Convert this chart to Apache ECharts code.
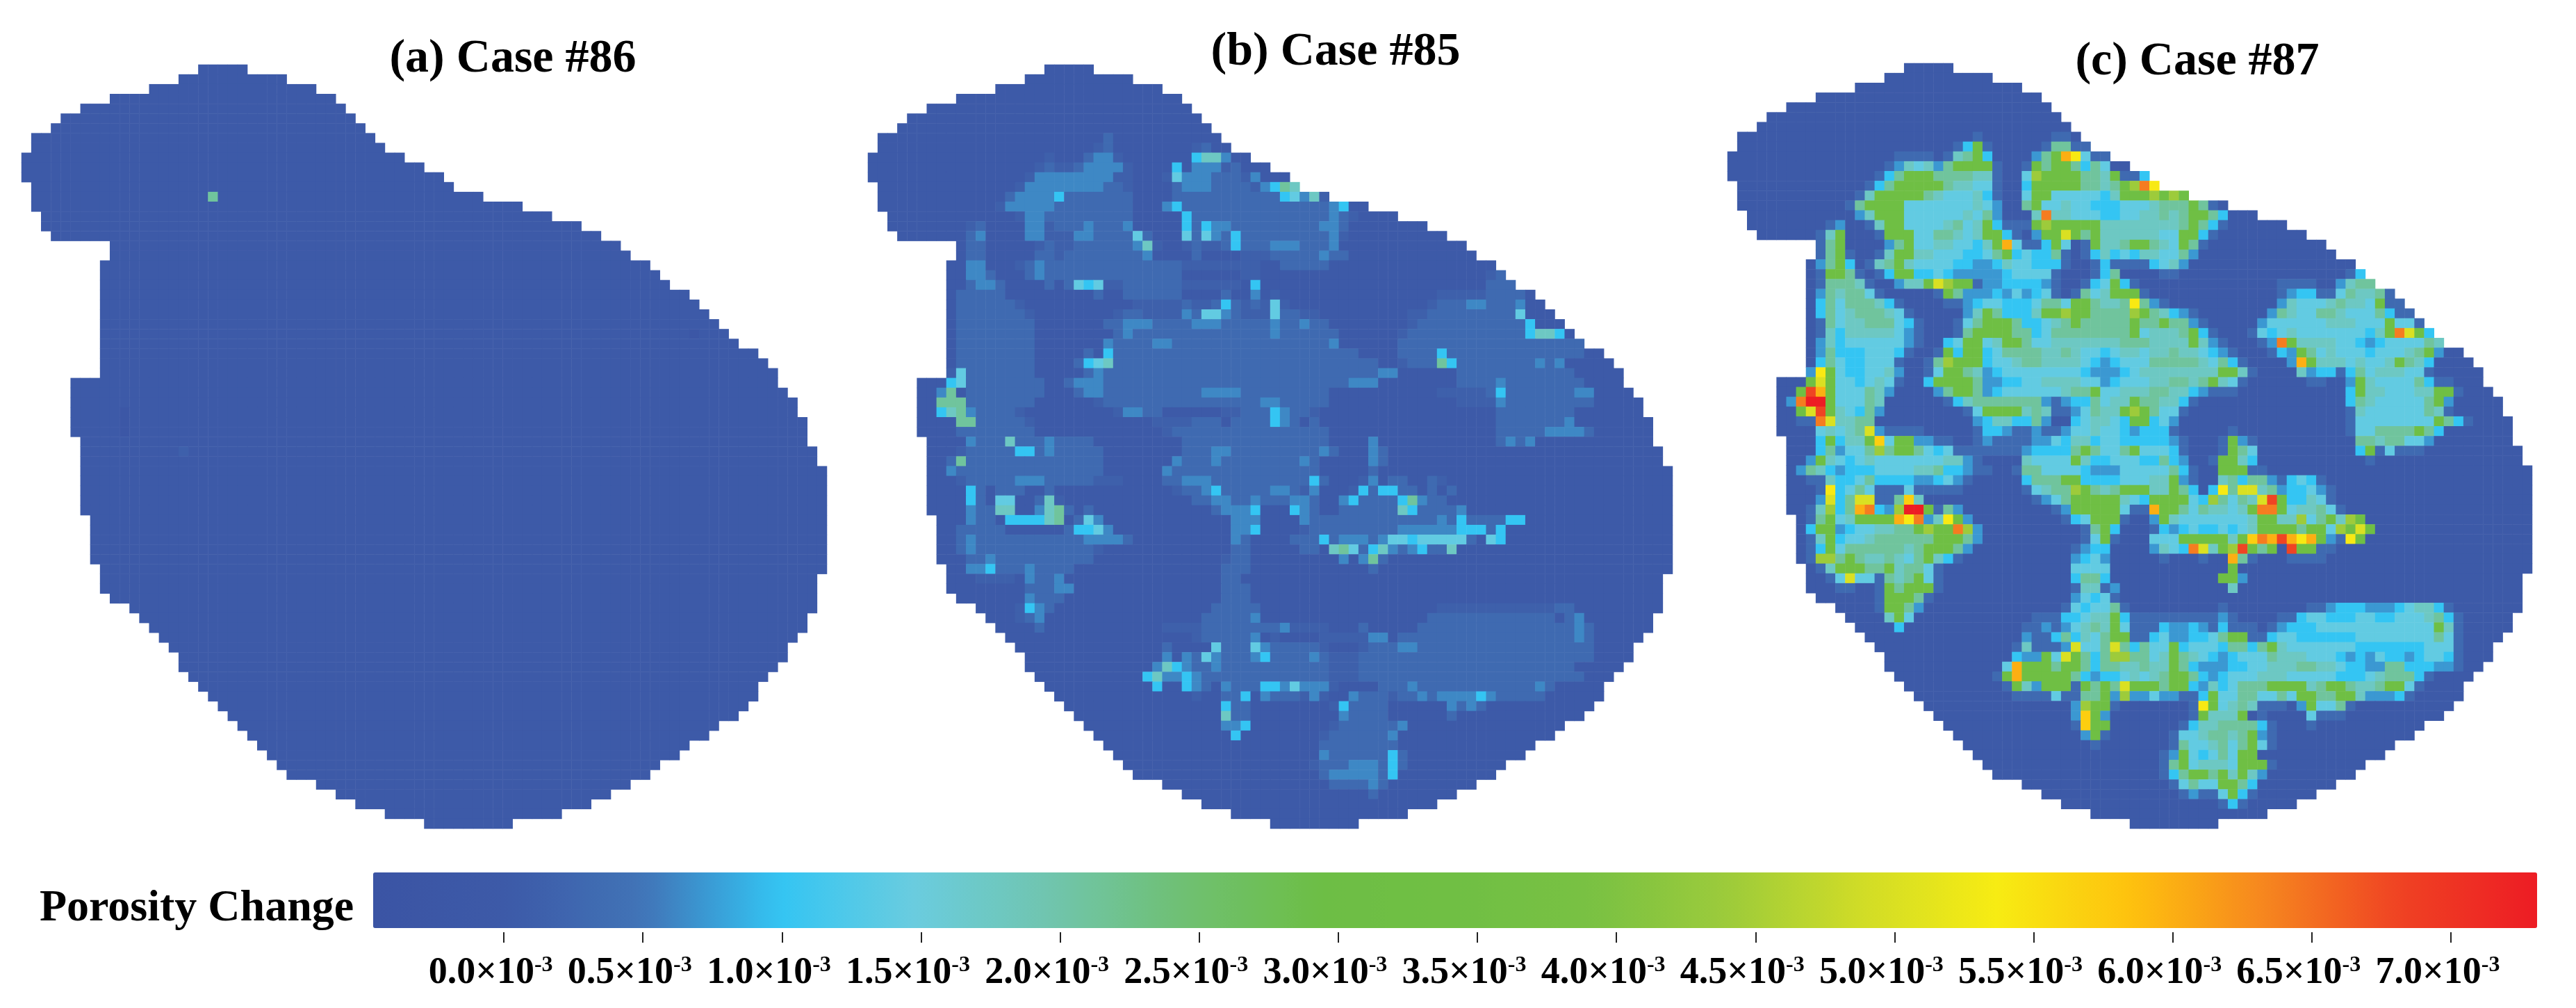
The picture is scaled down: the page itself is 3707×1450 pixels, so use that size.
<!DOCTYPE html>
<html><head><meta charset="utf-8">
<style>html,body{margin:0;padding:0;background:#fff}#c{width:3707px;height:1450px}</style>
<script src="https://cdn.jsdelivr.net/npm/echarts@6/dist/echarts.min.js"></script>
</head><body><div id="c"></div>
<script>
const panelTitles = ['(a) Case #86', '(b) Case #85', '(c) Case #87'];
const colorbarTitle = 'Porosity Change';
const tickValues = [0,0.5,1,1.5,2,2.5,3,3.5,4,4.5,5,5.5,6,6.5,7];
const barMin = -0.47, barMax = 7.31;
const barColors = ['#3b54a4','#3d5aa8','#4174b7','#33c5f3','#6accdf','#70c5ae','#6fc072','#6dbe45','#70bf44','#79c143','#9ccb3b','#d0dc27','#f7ec13','#fec10e','#f6851f','#ef4123','#ed1c24'];
const levelKeys = 'z.xawbcdefghijklmno';
const levelValues = [-0.2,0,0.12,0.32,0.62,0.72,1.0,1.4,1.75,2.1,3.2,4.4,5.0,5.4,5.7,6.0,6.4,6.8,7.3];
const rowStart = [18,16,13,9,6,4,3,1,1,0,0,0,1,1,1,2,2,3,9,9,8,8,8,8,8,8,8,8,8,8,8,8,5,5,5,5,5,5,6,6,6,6,6,6,6,6,7,7,7,7,7,8,8,8,9,11,12,13,14,15,16,16,17,18,19,20,21,22,23,24,25,26,27,30,32,34,37,41];
const rowEnd = [23,27,30,32,33,34,35,36,37,39,41,43,44,47,51,54,57,59,61,62,64,65,66,68,69,70,71,72,73,75,76,77,77,78,79,79,80,80,80,81,81,82,82,82,82,82,82,82,82,82,82,82,81,81,81,81,80,80,79,78,78,77,76,75,75,74,73,71,70,68,67,65,64,62,60,58,55,50];
// each row: [row, startCol, levels, startCol, levels, ...]; unlisted cells read as 0.0
const case86Rows = [[13,19,"f"],[27,68,"z"],[35,10,"z"],[36,10,"z"],[37,10,"z"],[39,16,"x"]];
const case85Rows = [
[7,24,"a"],
[8,23,"xa",33,"xa"],
[9,18,"x",22,"awwx",33,"ceew"],
[10,17,"xaxxawwwwx",31,"c.wwwxa"],
[11,16,"xwwwwwwwwxx",30,"xdwwwaaaxw"],
[12,15,"xwwwwwwwwaax",31,"awwwaaaaxwcfe"],
[13,14,"awwwwcaaaaaaa",31,"aaaaaaaaaaacdwex"],
[14,13,"xwwwwwaaaaaaaa",30,"wcaaaaaaaaaaaaaaawc"],
[15,15,"xwwaaaaaaaaa",32,"caaaaaaaaaaaaaawax"],
[16,10,"xa....wwxaaawaaaw",32,"cacwwaaaaaaaaawwa"],
[17,10,"aw....wwxxxwwaaaada",32,"dadwacaaaaaaaaawx"],
[18,10,"aa.....xaxxaaaaaawex",32,"xaxxacaaawwwaaaw"],
[19,10,"aa.....aaxaaaaaaaaw",33,"a",38,"xxxaaaaawaa"],
[20,10,"ww...xawaaaaaaaaaaaaaaxxxxxxxx..aaaaa"],
[21,10,"wwa...awaaaaaaaaaaaaaa",38,"xx",63,"xa"],
[22,10,"awwa....a.adcdxxaaaaaaxxxxxx",39,"c",63,"aaa"],
[23,9,"aaaaa",23,"a",26,"aaaaaa",36,"a",39,"w",41,"x",58,"xxxxx",63,"aaaa"],
[24,9,"aaaaaax",27,"xxxxx",32,"axxacaxaxdx",57,"xaaawwaaaw"],
[25,9,"aaaaaaax",25,"xaaxxxxwaddwaxxxdaaxx",55,"xxaaaaaaaaad"],
[26,9,"aaaaaaaa",24,"aawwwaaaawwwaaaaawaawaa",55,"xaaaaaaaaaaac"],
[27,9,"aaaaaaaa",25,"awaaaaaaaaaaaaaawaaaaaa",54,"xaaaaaaaaaaaaceec"],
[28,9,"aaaaaaaa",24,"waaaawwaaaaaaaaaaaaaaaaw",54,"aaaaaaaaaaaaaaaaaaa"],
[29,9,"aaaaaaaa",22,"a.caaaaaaaaaaaaaaaaaaaaaaaaa",54,"aaaacaaaaaaaaaaaaaa"],
[30,9,"aaaaaaaa",21,"acdeaaaaaaaaaaaaaaaaaaaaaaaaaaa",54,"xaaafcaaaaaaaawaw"],
[31,8,"xdaaaaaaa",22,"awaaaaaaaaaaaaaaaaaaaaaaaaaaaaww",60,"aaaaaaaaaaaa"],
[32,8,"cdaaaaaaaa",20,"awwwaaaaaaaaaaaaaaaaaaaaaaaaawww",60,"aaaawaaaaaaaa"],
[33,7,"wf.aaaaaaaa",21,"awwaaaaaaaaaawwwwaaaaaaaaa",58,"xxxxxacaaaaaaaww"],
[34,7,"fffaaaaaaa",23,"xaaaaaaaaaaaaaaaawwaaaaa",60,"xxxxwaaaaaaaaa"],
[35,7,"cefwaaaax",25,"xwwaa",36,"xxaaacwaax",64,"aaaaaaaa"],
[36,9,"ffaaaaax",29,"xxxxaaa",37,"aaaacwa.a",64,"aaaaaaaw"],
[37,9,"aaaaaaaa",30,"xaaaaaaaaaaaaaaaa",64,"aaaaawwwwa"],
[38,10,"waaaeaaawaaaa",32,"aaaaaaaaaaaaaaa",51,"w",64,"awaw"],
[39,9,"xaaaaaccawaaaaa",32,"aaawwaaaaaaaaawa",51,"wa"],
[40,8,"afaaaaaaaaaaaaaa",31,"waaawaaaaaaaawa",51,"wa"],
[41,8,"waaaaaaaaaaaaaaa",30,"waaaaaaaaaaaaaaa",51,"a"],
[42,9,"xaaaaawwwaaaaaxxx",30,"aawwwaaaaaaaaaaca",50,"xw",53,"aa",57,"ax"],
[43,10,"ca.aaa..a",31,"xaawcaaaaawwaxw",49,"xcaccaa",57,"a.a"],
[44,10,"ca.dd..aex",33,"aawwaawaaawwa",48,"wcaaaacfwaa"],
[45,10,"waaee..wefa.a",35,"awwwc...cwa",48,"aaaaaa",54,"ecaaaa",60,"w"],
[46,10,"waa.ccccef.adw",37,"www",44,"waaaaaaaaaaaaawacaaaacc"],
[47,9,"aaaaa",20,"accdw",37,"wwc",44,"xaaaaaaaaawwwwwwcccac"],
[48,9,"awaaaaaaaaaaawwwwa",37,"wa",43,"aaacawwwawddcddddda.dc"],
[49,9,"awaaaaaaaaaaaax",37,"aa",44,"aa.efdacewawcaae"],
[50,10,"aawaaaaaaaaaa",36,"xaa",48,"w.wfa"],
[51,10,"wwcaaawaaaa",36,"aaa",51,"a"],
[52,11,"xxxx.waaw",36,"aa"],
[53,16,"aaaww",36,"aaa"],
[54,16,"waaa",36,"aaa"],
[55,15,"xcwa",35,"aaaaa",58,"xxxxxxxxxxxx",70,"aa"],
[56,15,"xaw",34,"aaaaaw",57,"aaaaaaaaaaaaa.aw"],
[57,17,"a",30,"xxxxaaaaaaaawa",43,"xxxx",50,"a",56,"aaaaaaaaaaaaaaaawa"],
[58,33,"xaaaaaw.x",46,"xxxxx",51,"ww",54,"aaaaaaaaaaaaaaaaaawa"],
[59,30,"a....daaadwaaaaax",50,"xaaawwaaaaaaaaaaaaaaaaaa"],
[60,30,"w.wadwaaawcaaaawa",47,"xxxaaaaaaaaaaaaaaaaaaaaaaaa"],
[61,29,"wecwaawaaaaaaaaaaa",47,"xxxaaaaaaaaaaaaaaaaaaaaaa"],
[62,28,"cewwcwaaaaaaaaaaaaa",47,"xxxaaaaaaaaaaaaaaaaaaaaaaa"],
[63,29,"c..cwa.waaaccwdwwwx",52,"aaawaaaaaaaaaaaawa"],
[64,33,"x",36,"aac.waaaxwx..waaaxaawawwwwcwaaaaa"],
[65,36,"caa",47,"xcaaaa",59,"wawa"],
[66,36,"eaa",48,"waaaa",59,"a"],
[67,36,"wwc",47,"xaaaaaaw"],
[68,37,"c",46,"xaaaaaaw"],
[69,46,"aaaaaaaa"],
[70,46,"waaaaaaca"],
[71,45,"xaaawwwaca"],
[72,46,"awwwwwac"],
[73,47,"aaaawa"],
[74,51,"a"]
];
const case87Rows = [
[7,25,"a.......aa"],
[8,23,"acga.....affaa"],
[9,17,"aaaa.aefgc....bfgljdaa"],
[10,16,"abedebfgggga..agfggfcfd"],
[11,15,"acfgggffffeea..dhggggffegaac"],
[12,14,"acfgggggfeedda..cgggggffefghmj"],
[13,13,"aegggggfedddeca..dggdddddceggghghg"],
[14,12,"afggggdddddddedb..fgddeddcccdddefffgfa."],
[15,13,"begggddddddedfb...emeedddccddeefefggfc"],
[16,10,"ab..aeggddddefdegcaaaghgggggeeeeeeeefgfca"],
[17,9,"aeg...agggddffedeggca.bggigfgeeeeeeddggca"],
[18,9,"afg....bfgddeeddcegldaacgd.ageefggfedgfa"],
[19,9,"afga..aeggeedddccdfgcdccfa.acecdceeddfb"],
[20,9,"bfgc.aefgeddddccbbceddccca..acaaaacdeb"],
[21,9,"aggfa.acggccdcbbbbbcdddda...acf....aa",63,"ac"],
[22,9,"afffea..beegihggabbccccba..acdgca",56,"aaaa..beff"],
[23,9,"bfeffda.....agfbbbcbdbcda.afdeggga",56,"abccaadfeefa"],
[24,9,"cfdfffeca....aabcddcccdffdggfeefjfba",56,"bedddefeedgaa"],
[25,9,"cfdefffeda.....begfcccegghggffffhgfecba",55,"bfeddffedddfcaa"],
[26,9,"afdeefffdca...adfgggfccdefgfffffgffgffba",54,"bddddddeeedddgddaa"],
[27,9,"aeceeeeedba...afggggffcdffffffffgdeeefgca",53,"adcdedddddddcegmigc"],
[28,9,"becddddddba..cdggdeggfddeeeeeeefffeeeegeba",54,"abmgeeeeddcbcddddfe"],
[29,9,"bfcccdddca..agcggcdffffeefeddcdeedeefeedcba",55,"acbgfdedddcdddefgb"],
[30,9,"cfdccddda..afhgggcddeffeeeedcbcdddfffffedfca",57,"blgeeededdegfec"],
[31,8,"bjgdccddeb..adggfebcddddddddcbbbcdeeeeeeeeggea",58,"ebccacfdeeedda"],
[32,8,"gigddcdeda..cggggfbbccddeeeeddbcdddeeffefgeda",59,"aa..bgeddddfcaa"],
[33,7,"gnlgdddfeb....bfggfbcddddddeffgddeeeffeecbaaa",63,"cgeedddeegga"],
[34,6,"bmoogdddfe......acefffffffbabccfdeegffeeca",63,"cfedddddfgb"],
[35,7,"gingedcfb........adggggefeaabdfeeghgfdda",63,"aeddddddfea"],
[36,7,"aamieeff..........bceeccfb..cdeedcggcdb",63,"addddddddgfca"],
[37,9,"dedefibaaaa.....accbaabaabddeddcbccca",51,"a",63,"addffffgfc"],
[38,9,"cgceegkdggbbaa..abaaaabbdceecddcccccba",50,"agba",64,"ffeffddb"],
[39,9,"cfbddfhfggfdcdaaaaaaabccccfgfddfgdddca",50,"agfd",64,"cgadaaa"],
[40,8,"bgedcdedddddddeeba....eddddgeccdddccfcb",49,"aggec",65,"a"],
[41,7,"bfecbcccddddeefccbaa..affddddcbbbdddddfca",50,"gggaa"],
[42,8,"aaeccdfccccbbcdba.....cfffggccccdddeegba..efcffbacdca"],
[43,9,"ajcdfdaaadaaaaa......adeffhgfefgggeegfc.cjfiiefbccdba"],
[44,9,"bicfiiaafke...........abdfgggggedcggggdchfdfeingcceda"],
[45,8,"aehcflmcbhoogafb.........abgggggdaalggfdfeedegmmgdeefda"],
[46,8,"afgdeggggljmbejgb.........acdggga..bgedddddddeggeehdfgehg"],
[47,8,"cggbcddeeffghggmhb..........afgc...acbcdccdcdeggggfggdhgig"],
[48,8,"aegcddeffffffgggfb..........adga...dddgggggegkmlnljlgbajg"],
[49,8,"acgdffffffefgggfb..........abcc....bedcmieghngfg.nggaa"],
[50,8,"ahhfgfeefedfgeca...........bcdb.....a...a..lfa...aaaa"],
[51,9,"aegggffgeffda.............dddd",51,"g"],
[52,10,"adiddafefgda.............cffc",50,"ggb"],
[53,11,"aa..agfggga.............aeeab",51,"e"],
[54,15,"agggfa..............bdcda"],
[55,15,"aggfb..............adcddfa",50,"a",59,"aabcccbbbcdeeca"],
[56,16,"egd............aaaccdeegcaaaaaaaaaba....aacddcccddccdddefca"],
[57,17,"c............aababdefegdaaacbbcbacaaa.abcccddddddddddddgea"],
[58,30,"baacfcedfggaacdbbccdfggaacddccccccddddddddfda"],
[59,29,"aeaaabiddfifcfddgcdddcffcfgedddddddcccccccddda"],
[60,29,"cbbgdigfcfhhffdegfedcbcdddfeeedddcbcbdccbcddca"],
[61,28,"dlgggfggfcffeefeegfcbbbccddeeeffeedccbbffcccbba"],
[62,27,"aglgggggfcbccdedefggfcbcdddeeedddddcccdefffca"],
[63,28,"agebgggagfgfigggfggcbecdfffggggefggfeefggda"],
[64,29,"aaaadaaffgbhbbdbbaacgddffddfdggffggebbbca"],
[65,35,"bhgga.......ajgdefeaaa.bgddfa"],
[66,35,"bkgb........ageeeg.a....daaa"],
[67,35,"akgg.......aceeffffca...a"],
[68,36,"bga......addeffefgba"],
[69,37,"a.......afddefdfgda"],
[70,44,"abgdcdfdgg"],
[71,44,"afgdeeedggga"],
[72,44,"acfggfgegeb"],
[73,45,"adfddggfc"],
[74,46,"abaadgca"],
[75,50,"aca"]
];

function buildCells(rows){
  const grid = rowStart.map((s,r)=>{const a=[];for(let c=s;c<rowEnd[r];c++)a.push(0);return a;});
  rows.forEach(row=>{
    const r=row[0];
    for(let i=1;i<row.length;i+=2){
      const s=row[i],t=row[i+1];
      for(let k=0;k<t.length;k++){
        const c=s+k;
        if(c>=rowStart[r]&&c<rowEnd[r]) grid[r][c-rowStart[r]]=levelValues[levelKeys.indexOf(t[k])];
      }
    }
  });
  const out=[];
  grid.forEach((vals,r)=>vals.forEach((v,i)=>out.push([rowStart[r]+i,r,v])));
  return out;
}
const cols=Array.from({length:82},(_,i)=>i), rowsIdx=Array.from({length:78},(_,i)=>i);
const panels=[
 {left:31,top:93,width:1159,height:1099,cells:buildCells(case86Rows)},
 {left:1249,top:93,width:1158,height:1099,cells:buildCells(case85Rows)},
 {left:2486,top:91,width:1158,height:1101,cells:buildCells(case87Rows)}
];
const serif='"Liberation Serif","Times New Roman",serif';
const chart=echarts.init(document.getElementById('c'),null,{renderer:'canvas'});
chart.setOption({
  animation:false,backgroundColor:'#fff',
  title:[
    {text:panelTitles[0],left:733,top:80,textAlign:'center',textVerticalAlign:'middle',textStyle:{fontFamily:serif,fontWeight:'bold',fontSize:68,color:'#000'}},
    {text:panelTitles[1],left:1917,top:70,textAlign:'center',textVerticalAlign:'middle',textStyle:{fontFamily:serif,fontWeight:'bold',fontSize:68,color:'#000'}},
    {text:panelTitles[2],left:3157,top:84,textAlign:'center',textVerticalAlign:'middle',textStyle:{fontFamily:serif,fontWeight:'bold',fontSize:68,color:'#000'}},
    {text:colorbarTitle,left:52,top:1302,textAlign:'left',textVerticalAlign:'middle',textStyle:{fontFamily:serif,fontWeight:'bold',fontSize:64,color:'#000'}}
  ],
  grid:[
    ...panels.map(p=>({left:p.left,top:p.top,width:p.width,height:p.height,show:false})),
    {left:537,top:1340,width:3114,height:1,show:false}
  ],
  xAxis:[
    ...panels.map((p,i)=>({type:'category',gridIndex:i,data:cols,show:false})),
    {type:'value',gridIndex:3,min:barMin,max:barMax,position:'bottom',
     axisLine:{show:false},splitLine:{show:false},
     axisTick:{show:true,length:15,customValues:tickValues,lineStyle:{color:'#222',width:2}},
     axisLabel:{show:true,customValues:tickValues,margin:32,padding:[0,38,0,0],
       formatter:v=>'{a|'+v.toFixed(1)+'\u00d710}{b|-3}',
       rich:{a:{fontFamily:serif,fontWeight:'bold',fontSize:54,color:'#000'},
             b:{fontFamily:serif,fontWeight:'bold',fontSize:32,color:'#000',verticalAlign:'top',lineHeight:54}}}}
  ],
  yAxis:[
    ...panels.map((p,i)=>({type:'category',gridIndex:i,data:rowsIdx,inverse:true,show:false})),
    {type:'value',gridIndex:3,show:false,min:0,max:1}
  ],
  visualMap:{type:'continuous',show:true,min:barMin,max:barMax,dimension:2,seriesIndex:[0,1,2],
    orient:'horizontal',left:537,top:1255,itemWidth:80,itemHeight:3114,calculable:false,hoverLink:false,realtime:false,
    padding:0,text:null,inRange:{color:barColors}},
  series:panels.map((p,i)=>({type:'heatmap',xAxisIndex:i,yAxisIndex:i,data:p.cells,progressive:0,silent:true,
    itemStyle:{borderWidth:0},emphasis:{disabled:true}}))
});
</script></body></html>
